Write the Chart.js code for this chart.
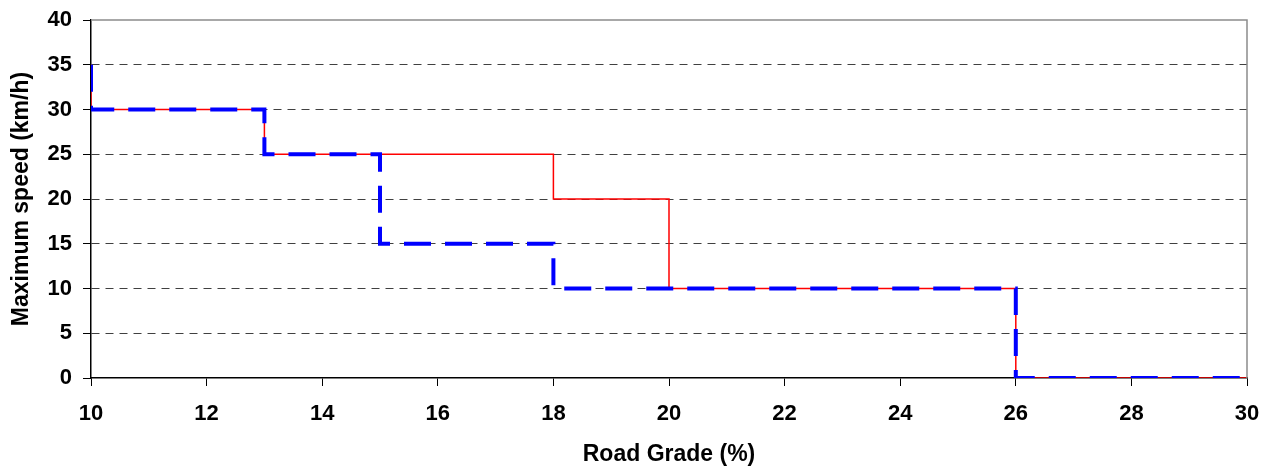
<!DOCTYPE html>
<html>
<head>
<meta charset="utf-8">
<script src="https://cdn.jsdelivr.net/npm/chart.js@4/dist/chart.umd.min.js"></script>
<style>
  html, body { margin: 0; padding: 0; background: #fff; }
  #wrap { width: 1271px; height: 468px; }
</style>
</head>
<body>
<div id="wrap"><canvas id="c"></canvas></div>
<script>
// step profiles: x = road grade (%), y = max speed (km/h)
const redX  = [10, 10, 13, 13, 18, 18, 20, 20, 26, 26, 30];
const redY  = [35, 30, 30, 25, 25, 20, 20, 10, 10, 0, 0];
const blueX = [10, 10, 13, 13, 15, 15, 18, 18, 26, 26, 30];
const blueY = [35, 30, 30, 25, 25, 15, 15, 10, 10, 0, 0];

const xTitle = 'Road Grade (%)';
const yTitle = 'Maximum speed (km/h)';

const pts = (xs, ys) => xs.map((x, i) => ({ x: x, y: ys[i] }));
const tickFont = { family: '"Liberation Sans", Arial, sans-serif', size: 22, weight: 'bold' };
const titleFont = { family: '"Liberation Sans", Arial, sans-serif', size: 23, weight: 'bold' };

// gray frame on top and right of the plot area
const frame = {
    id: 'frame',
    afterDatasetsDraw(chart) {
        const a = chart.chartArea, c = chart.ctx;
        c.save();
        c.strokeStyle = '#8c8c8c';
        c.lineWidth = 1.5;
        c.beginPath();
        c.moveTo(a.left, a.top);
        c.lineTo(a.right, a.top);
        c.lineTo(a.right, a.bottom);
        c.stroke();
        c.restore();
    }
};

new Chart(document.getElementById('c'), {
    type: 'line',
    data: {
        datasets: [
            {
                label: 'blue', data: pts(blueX, blueY),
                borderColor: '#0000ff', borderWidth: 4, borderDash: [27, 14],
                pointRadius: 0, tension: 0, fill: false
            },
            {
                label: 'red', data: pts(redX, redY),
                borderColor: '#ff0000', borderWidth: 1.5,
                pointRadius: 0, tension: 0, fill: false
            }
        ]
    },
    plugins: [frame],
    options: {
        responsive: true, maintainAspectRatio: false, animation: false,
        layout: { padding: { top: 20, right: 24, left: 0, bottom: 0 } },
        plugins: { legend: { display: false }, tooltip: { enabled: false } },
        scales: {
            x: {
                type: 'linear', min: 10, max: 30,
                ticks: { stepSize: 2, color: '#000', font: tickFont, padding: 15, maxRotation: 0 },
                grid: { drawOnChartArea: false, color: '#000', tickLength: 8 },
                border: { color: '#000', width: 1.5 },
                title: { display: true, text: xTitle, color: '#000', font: titleFont, padding: { top: 0, bottom: 0 } },
                afterFit(s) { s.height = 90; s.paddingLeft = 0; s.paddingRight = 0; }
            },
            y: {
                min: 0, max: 40,
                ticks: { stepSize: 5, color: '#000', font: tickFont, padding: 11 },
                grid: {
                    color: ctx => (ctx.tick && (ctx.tick.value === 0 || ctx.tick.value === 40)) ? 'rgba(0,0,0,0)' : '#404040',
                    lineWidth: 1, tickColor: '#000', tickLength: 8, tickBorderDash: [1, 0]
                },
                border: { color: '#000', width: 1.5, dash: [8, 6] },
                title: { display: true, text: yTitle, color: '#000', font: titleFont, padding: { top: 8, bottom: 0 } },
                afterFit(s) { s.width = 91; s.paddingTop = 0; s.paddingBottom = 0; }
            }
        }
    }
});
</script>
</body>
</html>
